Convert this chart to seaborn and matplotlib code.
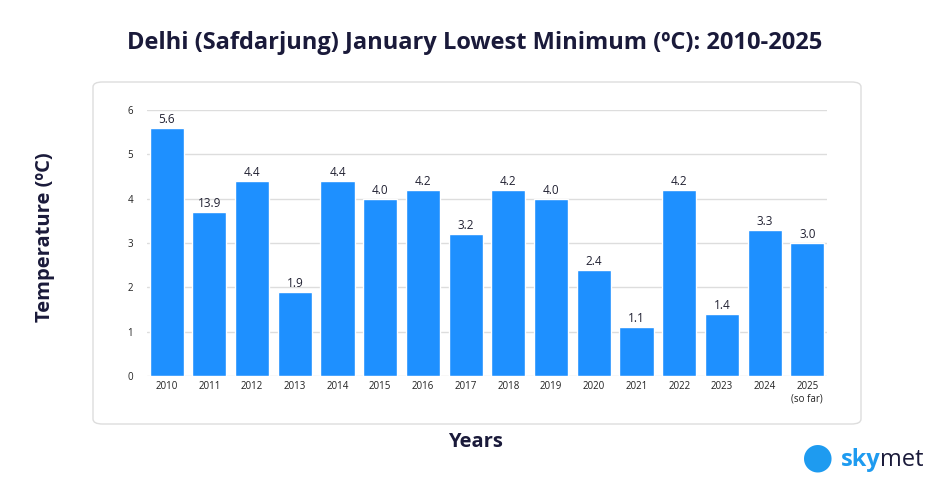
import matplotlib
matplotlib.use("Agg")
import matplotlib.pyplot as plt
import seaborn as sns
import pandas as pd
from matplotlib.patches import FancyBboxPatch

years = ["2010", "2011", "2012", "2013", "2014", "2015", "2016", "2017",
         "2018", "2019", "2020", "2021", "2022", "2023", "2024", "2025\n(so far)"]
temps = [5.6, 3.7, 4.4, 1.9, 4.4, 4.0, 4.2, 3.2, 4.2, 4.0, 2.4, 1.1, 4.2, 1.4, 3.3, 3.0]
labels = ["5.6", "13.9", "4.4", "1.9", "4.4", "4.0", "4.2", "3.2",
          "4.2", "4.0", "2.4", "1.1", "4.2", "1.4", "3.3", "3.0"]

df = pd.DataFrame({"year": years, "temp": temps})

sns.set_style("white")
plt.rcParams["font.family"] = ["Open Sans", "DejaVu Sans"]
fig = plt.figure(figsize=(9.5, 5), dpi=100)

# rounded panel
panel = FancyBboxPatch((93 / 950, 1 - 424 / 500), 768 / 950, 342 / 500,
                       boxstyle="round,pad=0,rounding_size=0.01",
                       transform=fig.transFigure, facecolor="white",
                       edgecolor="#dddddd", lw=1, zorder=-10)
fig.patches.append(panel)

ax = fig.add_axes([147 / 950, 1 - 376 / 500, 680 / 950, 266 / 500])
ax.set_facecolor("none")
sns.barplot(data=df, x="year", y="temp", color="#1e90ff", saturation=1,
            width=0.8, ax=ax, zorder=3)
for i, (v, lab) in enumerate(zip(temps, labels)):
    ax.text(i, v + 0.04, lab, ha="center", va="bottom", fontsize=8.5, color="#222233")

ax.set_ylim(0, 6)
ax.set_xlim(-0.46, 15.46)
ax.set_yticks(range(7))
ax.yaxis.grid(True, color="#dddddd", lw=1, zorder=0)
ax.set_axisbelow(True)
ax.tick_params(axis="both", length=0, labelsize=7, colors="#222222")
ax.tick_params(axis="y", pad=10)
for s in ax.spines.values():
    s.set_visible(False)
ax.set_xlabel("")
ax.set_ylabel("")

fig.text(0.5, 1 - 43 / 500, "Delhi (Safdarjung) January Lowest Minimum (ºC): 2010-2025",
         ha="center", va="center", fontsize=17, fontweight="bold", color="#1a1a3a")
fig.text(45 / 950, 1 - 237 / 500, "Temperature (ºC)", rotation=90, ha="center",
         va="center", fontsize=14.5, fontweight="bold", color="#1a1a3a")
fig.text(475 / 950, 1 - 442 / 500, "Years", ha="center", va="center",
         fontsize=14.5, fontweight="bold", color="#1a1a3a")
fig.text(841 / 950, 1 - 460 / 500, "sky", ha="left", va="center", fontsize=17,
         fontweight="bold", color="#1e9bf0")
fig.text(880 / 950, 1 - 460 / 500, "met", ha="left", va="center", fontsize=17,
         color="#1a1a3a")
fig.text(818 / 950, 1 - 458 / 500, "●", ha="center", va="center", fontsize=26,
         color="#1e9bf0")

fig.savefig("out.png", dpi=100)
